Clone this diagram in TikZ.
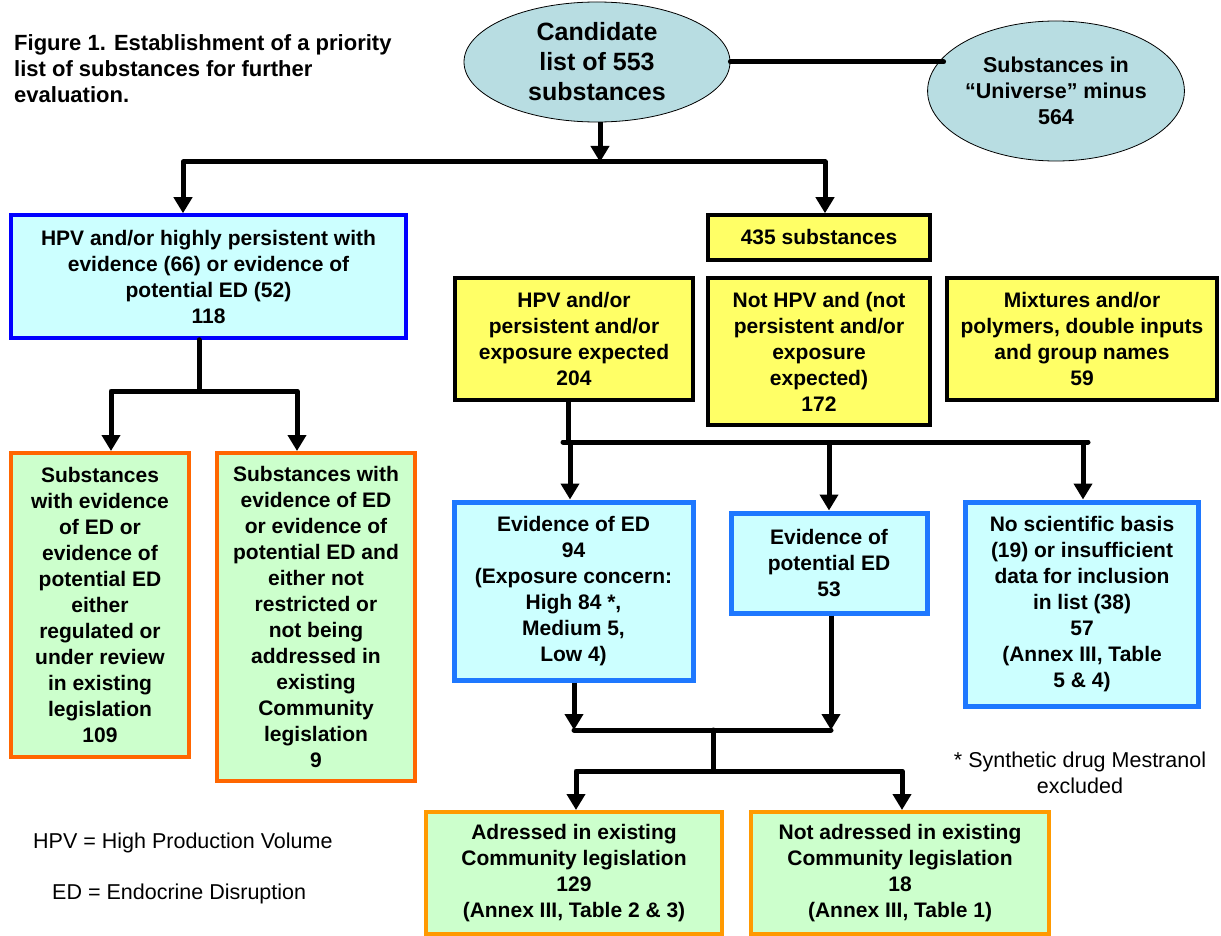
\documentclass[tikz,border=0pt]{standalone}
\usepackage{fontspec}
\setmainfont{Liberation Sans}
\usetikzlibrary{arrows.meta,shapes.geometric}
\definecolor{ellfill}{RGB}{184,221,226}
\definecolor{cyanfill}{RGB}{204,255,255}
\definecolor{greenfill}{RGB}{204,255,204}
\definecolor{yellowfill}{RGB}{255,255,102}
\definecolor{pureblue}{RGB}{0,0,255}
\definecolor{midblue}{RGB}{30,120,255}
\definecolor{deeporange}{RGB}{255,102,0}
\definecolor{amber}{RGB}{255,153,0}
\newcommand{\boxfont}{\fontsize{21}{26}\selectfont\bfseries}
\begin{document}
\begin{tikzpicture}[x=1pt,y=-1pt,
  box/.style={draw, rectangle, align=center, inner sep=0pt, font=\boxfont, line width=3.5pt},
  hpvbox/.style={box, fill=cyanfill, draw=pureblue},
  edbox/.style={box, fill=cyanfill, draw=midblue, line width=5pt},
  ybox/.style={box, fill=yellowfill, draw=black},
  gbox/.style={box, fill=greenfill, draw=deeporange, line width=4pt},
  abox/.style={box, fill=greenfill, draw=amber, line width=4pt},
  ell/.style={draw, ellipse, fill=ellfill, line width=0.8pt, inner sep=0pt, align=center},
  conn/.style={line width=5pt, line cap=round, line join=round},
  arr/.style={conn, line cap=butt, -{Triangle[width=18pt,length=16pt]}},
  arrboth/.style={conn, line cap=butt, {Triangle[width=18pt,length=16pt]}-{Triangle[width=18pt,length=16pt]}},
  note/.style={font=\fontsize{21.5}{26}\selectfont, align=center, inner sep=0pt}
]
\useasboundingbox (0,0) rectangle (1221,936);
\fill[white] (0,0) rectangle (1221,936);

% title
\node[anchor=west, align=left, inner sep=0pt, font=\fontsize{22}{26}\selectfont\bfseries] (title) at (14,69)
  {Figure 1. Establishment of a priority\\list of substances for further\\evaluation.};

% ellipses
\node[ell, minimum width=266pt, minimum height=120pt, font=\fontsize{25}{30}\selectfont\bfseries] (e1) at (597,62)
  {Candidate\\list of 553\\substances};
\node[ell, minimum width=212pt, minimum height=140pt, font=\fontsize{21.5}{26}\selectfont\bfseries] (e2) at (1056,91)
  {Substances in\\“Universe” minus\\564};

% boxes
\node[hpvbox, minimum width=395pt, minimum height=123pt] (hpv) at (208.5,276.5)
  {HPV and/or highly persistent with\\evidence (66) or evidence of\\potential ED (52)\\118};
\node[gbox, minimum width=178pt, minimum height=304pt] (g1) at (100,605)
  {Substances\\with evidence\\of ED or\\evidence of\\potential ED\\either\\regulated or\\under review\\in existing\\legislation\\109};
\node[gbox, minimum width=198pt, minimum height=328pt] (g2) at (316,617)
  {Substances with\\evidence of ED\\or evidence of\\potential ED and\\either not\\restricted or\\not being\\addressed in\\existing\\Community\\legislation\\9};

\node[ybox, minimum width=222pt, minimum height=45pt] (y435) at (819,237.5) {435 substances};
\node[ybox, minimum width=238pt, minimum height=122pt] (yA) at (574,339)
  {HPV and/or\\persistent and/or\\exposure expected\\204};
\node[ybox, minimum width=222pt, minimum height=147pt] (yB) at (819,351.5)
  {Not HPV and (not\\persistent and/or\\exposure\\expected)\\172};
\node[ybox, minimum width=270pt, minimum height=122pt] (yC) at (1082,339)
  {Mixtures and/or\\polymers, double inputs\\and group names\\59};

\node[edbox, minimum width=239pt, minimum height=178pt] (bA) at (573.5,591)
  {Evidence of ED\\94\\(Exposure concern:\\High 84 *,\\Medium 5,\\Low 4)};
\node[edbox, minimum width=196pt, minimum height=100pt] (bB) at (829,563)
  {Evidence of\\potential ED\\53};
\node[edbox, minimum width=233pt, minimum height=204pt] (bC) at (1082,604)
  {No scientific basis\\(19) or insufficient\\data for inclusion\\in list (38)\\57\\(Annex III, Table\\5 \& 4)};

\node[abox, minimum width=296pt, minimum height=122pt] (gA) at (574,873)
  {Adressed in existing\\Community legislation\\129\\(Annex III, Table 2 \& 3)};
\node[abox, minimum width=298pt, minimum height=122pt] (gB) at (900,873)
  {Not adressed in existing\\Community legislation\\18\\(Annex III, Table 1)};

% notes
\node[note] (star) at (1080,773) {* Synthetic drug Mestranol\\excluded};
\node[note, anchor=west] (hpvdef) at (33,843) {HPV = High Production Volume};
\node[note, anchor=west] (eddef) at (52,894) {ED = Endocrine Disruption};

% connectors
\draw[conn] (e1.east) -- (e1.east -| e2.163);

\coordinate (j1) at (600,162);
\coordinate (b1L) at (183,162);
\coordinate (b1R) at (825,162);
\draw[arr] (e1.south -| j1) -- (j1);
\draw[arrboth] (hpv.north -| b1L) |- (b1R) -- (y435.north -| b1R);

\coordinate (j2) at (199,391);
\coordinate (b2L) at (111,391);
\coordinate (b2R) at (297,391);
\draw[conn] (hpv.south -| j2) -- (j2);
\draw[arrboth] (g1.north -| b2L) |- (b2R) -- (g2.north -| b2R);

\coordinate (j3) at (568,442);
\coordinate (b3L) at (570,442);
\coordinate (b3M) at (829,442);
\coordinate (b3R) at (1083,442);
\draw[conn] (yA.south -| j3) -- (j3);
\draw[conn] (563,442) -- (1088,442);
\draw[arr] (b3L) -- (bA.north -| b3L);
\draw[arr] (b3M) -- (bB.north -| b3M);
\draw[arr] (b3R) -- (bC.north -| b3R);

\coordinate (b4L) at (574,730);
\coordinate (b4R) at (831,730);
\coordinate (j4) at (713,730);
\coordinate (j5) at (713,771);
\coordinate (b5L) at (576,771);
\coordinate (b5R) at (902,771);
\draw[arr] (bA.south -| b4L) -- (b4L);
\draw[arr] (bB.south -| b4R) -- (b4R);
\draw[conn] (b4L) -- (b4R);
\draw[conn] (j4) -- (j5);
\draw[arrboth] (gA.north -| b5L) |- (b5R) -- (gB.north -| b5R);
\end{tikzpicture}
\end{document}
